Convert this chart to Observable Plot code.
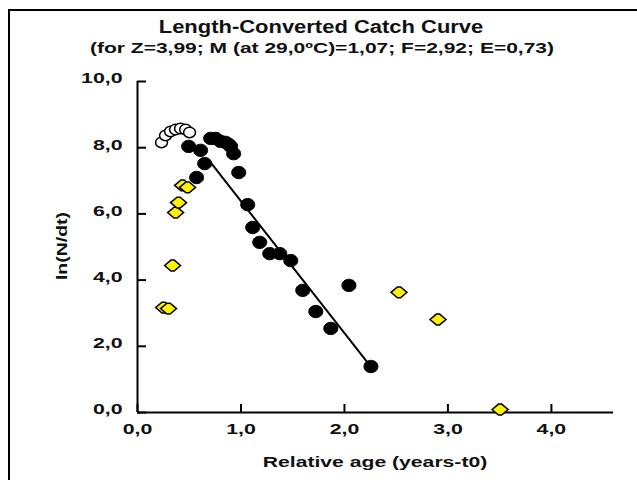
<!DOCTYPE html>
<html>
<head>
<meta charset="utf-8">
<script src="https://cdn.jsdelivr.net/npm/d3@7"></script>
<script src="https://cdn.jsdelivr.net/npm/@observablehq/plot@0.6"></script>
<style>
  body { margin: 0; background: #fff; }
  #wrap { position: relative; width: 637px; height: 480px; overflow: hidden; font-family: Arial, "Liberation Sans", sans-serif; color: #111; }
  #frame { position: absolute; left: 8px; top: 9px; width: 700px; height: 600px; border-left: 2px solid #000; border-top: 2px solid #000; }
  .t { position: absolute; font-weight: bold; white-space: nowrap; }
  #chart { position: absolute; left: 0; top: 0; }
</style>
</head>
<body>
<div id="wrap">
  <div id="frame"></div>
  <div id="chart"></div>
  <div class="t" id="title" style="left:321px;top:27px;font-size:18px;line-height:20px;transform:translate(-50%,-50%) scaleX(1.22);">Length-Converted Catch Curve</div>
  <div class="t" id="subtitle" style="left:322px;top:48px;font-size:15px;line-height:16px;transform:translate(-50%,-50%) scaleX(1.4);">(for Z=3,99; M (at 29,0ºC)=1,07; F=2,92; E=0,73)</div>
  <div class="t" id="ylabel" style="left:62px;top:246px;font-size:14px;line-height:16px;transform:translate(-50%,-50%) rotate(-90deg) scaleX(1.39);">ln(N/dt)</div>
  <div class="t" id="xlabel" style="left:375px;top:462px;font-size:15px;line-height:16px;transform:translate(-50%,-50%) scaleX(1.41);">Relative age (years-t0)</div>
</div>
<script>
// Data
const usedAge = [0.494, 0.610, 0.649, 0.571, 0.707, 0.755, 0.803, 0.852, 0.881, 0.900, 0.929, 0.978, 1.065, 1.113, 1.181, 1.278, 1.375, 1.481, 1.597, 1.723, 1.868, 2.043, 2.256];
const usedLn  = [8.04, 7.92, 7.52, 7.10, 8.28, 8.28, 8.19, 8.16, 8.10, 8.04, 7.82, 7.25, 6.28, 5.59, 5.14, 4.80, 4.80, 4.59, 3.69, 3.05, 2.54, 3.84, 1.39];

const openAge = [0.232, 0.271, 0.319, 0.368, 0.416, 0.465, 0.503];
const openLn  = [8.16, 8.37, 8.49, 8.55, 8.58, 8.55, 8.46];

const exclAge = [0.252, 0.300, 0.339, 0.368, 0.397, 0.436, 0.484, 2.527, 2.904, 3.504];
const exclLn  = [3.17, 3.14, 4.44, 6.04, 6.34, 6.86, 6.80, 3.63, 2.81, 0.09];

const regAge = [0.68, 2.26];
const regLn  = [7.66, 1.36];

const xTicks = [0, 1, 2, 3, 4];
const yTicks = [0, 2, 4, 6, 8, 10];

const used = usedAge.map((x, i) => ({x, y: usedLn[i]}));
const open = openAge.map((x, i) => ({x, y: openLn[i]}));
const excl = exclAge.map((x, i) => ({x, y: exclLn[i]}));
const reg = regAge.map((x, i) => ({x, y: regLn[i]}));

const fmt = d => d.toFixed(1).replace(".", ",");

const wideDiamond = {
  draw(ctx, size) {
    const w = Math.sqrt(size) * 0.85, h = w * 0.68;
    ctx.moveTo(-w, 0);
    ctx.lineTo(-w * 0.2, -h);
    ctx.lineTo(w * 0.2, -h);
    ctx.lineTo(w, 0);
    ctx.lineTo(w * 0.2, h);
    ctx.lineTo(-w * 0.2, h);
    ctx.closePath();
  }
};

const wideCircle = {
  draw(ctx, size) {
    const r = Math.sqrt(size / Math.PI);
    const a = r * 1.08, b = r * 0.95, k = 0.5523;
    ctx.moveTo(a, 0);
    ctx.bezierCurveTo(a, b * k, a * k, b, 0, b);
    ctx.bezierCurveTo(-a * k, b, -a, b * k, -a, 0);
    ctx.bezierCurveTo(-a, -b * k, -a * k, -b, 0, -b);
    ctx.bezierCurveTo(a * k, -b, a, -b * k, a, 0);
    ctx.closePath();
  }
};

const chart = Plot.plot({
  width: 637,
  height: 480,
  marginLeft: 137,
  marginRight: 24,
  marginTop: 81,
  marginBottom: 68,
  style: {fontFamily: 'Arial, "Liberation Sans", sans-serif', color: "#111", background: "transparent"},
  x: {domain: [0, 4.6]},
  y: {domain: [0, 10]},
  marks: [
    Plot.axisY(yTicks, {tickSize: -9, tickFormat: () => "", label: null, strokeWidth: 2, stroke: "#000"}),
    Plot.axisY(yTicks, {tickSize: 0, tickPadding: 15, dy: -3, tickFormat: fmt, label: null, fontSize: 15, fontWeight: "bold", fill: "#111"}),
    Plot.axisX(xTicks, {tickSize: -8, tickFormat: () => "", label: null, strokeWidth: 2, stroke: "#000"}),
    Plot.axisX(xTicks, {tickSize: 0, tickPadding: 11, tickFormat: fmt, label: null, fontSize: 15, fontWeight: "bold", fill: "#111"}),
    Plot.ruleX([0], {stroke: "#000", strokeWidth: 2}),
    Plot.ruleY([0], {stroke: "#000", strokeWidth: 2}),
    Plot.line(reg, {x: "x", y: "y", stroke: "#000", strokeWidth: 2}),
    Plot.dot(open, {x: "x", y: "y", r: 5.5, symbol: wideCircle, fill: "#fff", stroke: "#000", strokeWidth: 1.5}),
    Plot.dot(excl, {x: "x", y: "y", r: 5.3, symbol: wideDiamond, fill: "#fff200", stroke: "#000", strokeWidth: 1.5}),
    Plot.dot(used, {x: "x", y: "y", r: 6.5, symbol: wideCircle, fill: "#000", stroke: "#000", strokeWidth: 1})
  ]
});
// stretch tick labels horizontally like the reference image
d3.select(chart).selectAll("g[aria-label='y-axis tick label'] text, g[aria-label='x-axis tick label'] text").each(function () {
  const t = this.getAttribute("transform") || "";
  this.setAttribute("transform", t + " scale(1.42,1)");
});
document.getElementById("chart").appendChild(chart);
</script>
</body>
</html>
